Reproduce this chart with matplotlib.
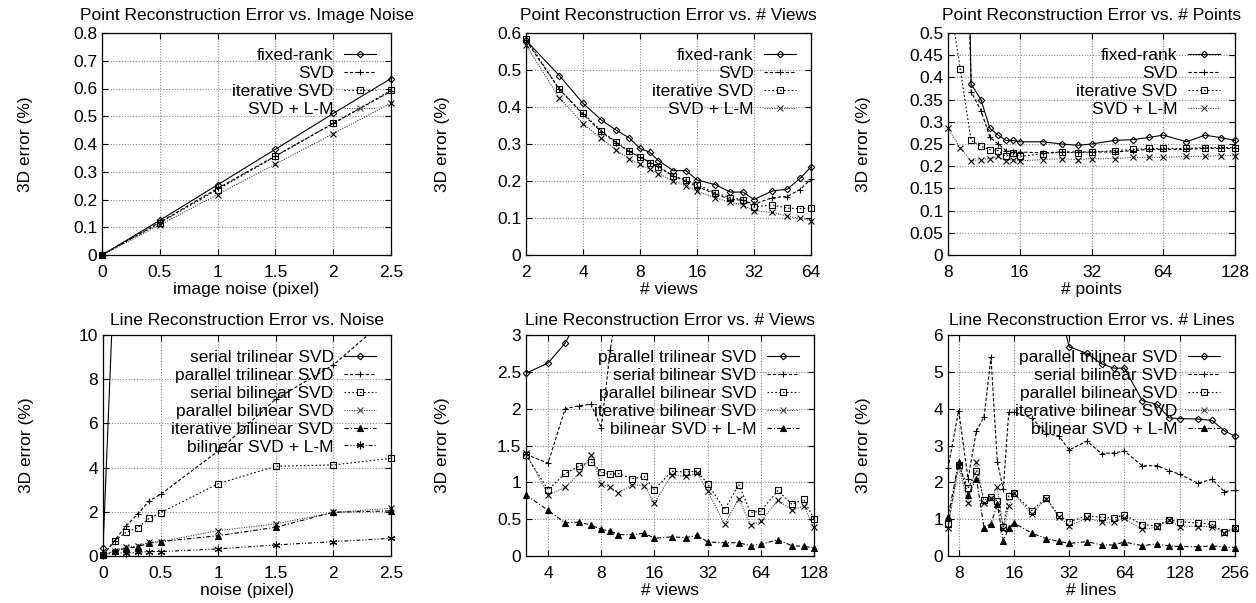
import numpy as np
import matplotlib
matplotlib.use("Agg")
import matplotlib.pyplot as plt
from matplotlib.lines import Line2D
from matplotlib.ticker import NullLocator, FixedLocator, FixedFormatter

plt.rcParams['font.family'] = ['Liberation Sans', 'DejaVu Sans']
plt.rcParams['font.size'] = 12.5

nan = np.nan

# --- point reconstruction vs. image noise
noise_pt = [0, 0.5, 1, 1.5, 2, 2.5]
p1_fixed = [0, 0.125, 0.253, 0.381, 0.510, 0.636]
p1_svd = [0, 0.118, 0.240, 0.357, 0.474, 0.590]
p1_iter = [0, 0.115, 0.236, 0.355, 0.475, 0.593]
p1_lm = [0, 0.108, 0.218, 0.328, 0.437, 0.547]

# --- point reconstruction vs. # views
views_pt = [2, 3, 4, 5, 6, 7, 8, 9, 10, 12, 14, 16, 20, 24, 28, 32, 40, 48, 56, 64]
p2_fixed = [0.580, 0.485, 0.410, 0.365, 0.337, 0.317, 0.288, 0.278, 0.255, 0.228,
            0.228, 0.203, 0.190, 0.170, 0.170, 0.150, 0.173, 0.178, 0.207, 0.238]
p2_svd = [0.580, 0.448, 0.380, 0.333, 0.303, 0.280, 0.265, 0.250, 0.240, 0.213,
          0.200, 0.185, 0.165, 0.150, 0.148, 0.137, 0.155, 0.158, 0.177, 0.205]
p2_iter = [0.585, 0.448, 0.383, 0.335, 0.305, 0.280, 0.265, 0.250, 0.237, 0.213,
           0.203, 0.190, 0.168, 0.155, 0.150, 0.130, 0.135, 0.127, 0.125, 0.127]
p2_lm = [0.567, 0.425, 0.355, 0.315, 0.283, 0.260, 0.245, 0.232, 0.220, 0.200,
         0.187, 0.172, 0.155, 0.142, 0.135, 0.120, 0.115, 0.105, 0.099, 0.093]

# --- point reconstruction vs. # points
points_pt = [8, 9, 10, 11, 12, 13, 14, 15, 16, 20, 24, 28, 32, 40, 48, 56, 64, 80, 96, 112, 128]
p3_fixed = [nan, 1.7, 0.385, 0.350, 0.285, 0.270, 0.258, 0.258, 0.255, 0.255, 0.250,
            0.247, 0.250, 0.258, 0.260, 0.265, 0.270, 0.255, 0.270, 0.264, 0.258]
p3_svd = [nan, 1.5, 0.368, 0.325, 0.265, 0.250, 0.235, 0.232, 0.232, 0.230, 0.232,
          0.232, 0.232, 0.232, 0.235, 0.238, 0.238, 0.238, 0.240, 0.240, 0.240]
p3_iter = [0.60, 0.420, 0.258, 0.245, 0.237, 0.235, 0.222, 0.230, 0.222, 0.228, 0.232,
           0.230, 0.232, 0.235, 0.238, 0.240, 0.240, 0.240, 0.242, 0.242, 0.242]
p3_lm = [0.285, 0.242, 0.212, 0.215, 0.217, 0.222, 0.212, 0.215, 0.212, 0.215, 0.217,
         0.215, 0.217, 0.217, 0.220, 0.220, 0.220, 0.222, 0.222, 0.224, 0.224]

# --- line reconstruction vs. noise
noise_ln = [0, 0.1, 0.2, 0.3, 0.4, 0.5, 1, 1.5, 2, 2.5]
p4_st = [0.35, 13.2, nan, nan, nan, nan, nan, nan, nan, nan]
p4_pt = [0.03, 0.70, 1.36, 1.89, 2.49, 2.79, 4.75, 7.10, 8.65, 10.9]
p4_sb = [0.03, 0.69, 1.07, 1.28, 1.70, 1.96, 3.27, 4.06, 4.12, 4.42]
p4_pb = [0.03, 0.24, 0.40, 0.45, 0.62, 0.65, 1.15, 1.45, 1.97, 2.16]
p4_ib = [0.03, 0.22, 0.35, 0.42, 0.58, 0.65, 0.92, 1.30, 1.98, 2.04]
p4_lm = [0.03, 0.17, 0.12, 0.17, 0.20, 0.20, 0.32, 0.50, 0.65, 0.80]

# --- line reconstruction vs. # views
views_ln = [3, 4, 5, 6, 7, 8, 9, 10, 12, 14, 16, 20, 24, 28, 32, 40, 48, 56, 64, 80, 96, 112, 128]
p5_pt = [2.48, 2.62, 2.89, 3.25] + [nan] * 19
p5_sb = [1.38, 1.26, 2.00, 2.04, 2.06, 1.74, 2.80, 3.50] + [nan] * 15
p5_pb = [1.37, 0.90, 1.12, 1.22, 1.28, 1.14, 1.11, 1.12, 1.05, 1.08, 0.90, 1.15,
         1.14, 1.15, 0.98, 0.63, 0.97, 0.59, 0.61, 0.89, 0.70, 0.77, 0.50]
p5_ib = [1.40, 0.83, 0.93, 1.12, 1.37, 0.98, 0.93, 0.86, 0.97, 0.95, 0.72, 1.10,
         1.08, 1.12, 0.88, 0.43, 0.78, 0.42, 0.47, 0.76, 0.62, 0.68, 0.39]
p5_lm = [0.83, 0.62, 0.45, 0.46, 0.42, 0.36, 0.34, 0.29, 0.29, 0.31, 0.24, 0.26,
         0.25, 0.28, 0.19, 0.18, 0.18, 0.14, 0.16, 0.22, 0.14, 0.13, 0.11]

# --- line reconstruction vs. # lines
lines_ln = [7, 8, 9, 10, 11, 12, 13, 14, 15, 16, 20, 24, 28, 32, 40, 48, 56, 64,
            80, 96, 112, 128, 160, 192, 224, 256]
p6_pt = [nan] * 12 + [6.8, 5.68, 5.50, 5.22, 5.10, 5.10, 4.22, 4.12, 3.75, 3.73,
                      3.72, 3.68, 3.40, 3.25]
p6_sb = [2.38, 3.95, 2.10, 3.40, 3.78, 5.40, 2.55, 1.82, 3.90, 3.90, 3.75, 3.32, 3.27,
         2.88, 3.12, 2.78, 2.80, 2.85, 2.45, 2.45, 2.32, 2.22, 1.98, 2.08, 1.75, 1.78]
p6_pb = [0.88, 2.48, 1.84, 2.32, 1.52, 1.59, 1.50, 0.80, 1.63, 1.70, 1.23, 1.58, 1.10,
         0.93, 1.09, 1.05, 1.03, 1.12, 0.85, 0.82, 0.98, 0.93, 0.90, 0.86, 0.65, 0.75]
p6_ib = [0.76, 2.45, 1.43, 2.54, 1.43, 1.58, 1.86, 0.72, 1.36, 1.70, 1.13, 1.56, 1.07,
         0.82, 1.03, 0.92, 0.92, 1.02, 0.72, 0.78, 0.98, 0.80, 0.80, 0.80, 0.62, 0.75]
p6_lm = [1.06, 2.55, 1.65, 2.10, 0.77, 0.88, 1.40, 0.42, 0.76, 0.90, 0.62, 0.47, 0.40,
         0.34, 0.39, 0.30, 0.30, 0.38, 0.28, 0.33, 0.27, 0.26, 0.25, 0.27, 0.25, 0.23]

labels_pt = ["fixed-rank", "SVD", "iterative SVD", "SVD + L-M"]
labels_noise = ["serial trilinear SVD", "parallel trilinear SVD", "serial bilinear SVD",
                "parallel bilinear SVD", "iterative bilinear SVD", "bilinear SVD + L-M"]
labels_ln = ["parallel trilinear SVD", "serial bilinear SVD", "parallel bilinear SVD",
             "iterative bilinear SVD", "bilinear SVD + L-M"]

# gnuplot-like line types / point types
LS = ['-', (0, (3, 1.8)), (0, (1.5, 2)), (0, (1, 1.2)), (0, (4, 1.8, 1, 1.8)),
      (0, (3.5, 1.8, 1, 1.8, 1, 1.8))]
LC = ['black', 'black', 'black', '#444444', 'black', 'black']
MK = [dict(marker='D', ms=3.3, mfc='none'),
      dict(marker='+', ms=5),
      dict(marker='s', ms=4, mfc='none'),
      dict(marker='x', ms=4),
      dict(marker='^', ms=4),
      dict(marker=(6, 2, 0), ms=5.5)]


def draw_panel(rect, x, series, labels, n, xlim, ylim, xticks, yticks,
               title, xlabel, ylab_off, logx=False, title_pad=7):
    ax = fig.add_axes(rect)
    if logx:
        ax.set_xscale('log', base=2)
    ax.set_xlim(*xlim)
    ax.set_ylim(*ylim)
    handles = []
    for i, (y, lab) in enumerate(zip(series, labels)):
        k = n[i]
        y = np.array(y, dtype=float)
        xa = np.array(x, dtype=float)
        ax.plot(xa, y, color=LC[k], lw=0.8, ls=LS[k], zorder=3)
        # markers on the border are drawn whole, like gnuplot does
        ok = (y >= ylim[0]) & (y <= ylim[1])
        ax.plot(xa[ok], y[ok], ls='none', color='black', mew=0.8, clip_on=False,
                zorder=4, **MK[k])
        handles.append(Line2D([], [], color=LC[k], lw=0.8, ls=LS[k], mew=0.8, **MK[k]))
    ax.xaxis.set_major_locator(FixedLocator(xticks))
    ax.xaxis.set_major_formatter(FixedFormatter(['%g' % t for t in xticks]))
    ax.xaxis.set_minor_locator(NullLocator())
    ax.yaxis.set_major_locator(FixedLocator(yticks))
    ax.yaxis.set_major_formatter(FixedFormatter(['%g' % t for t in yticks]))
    ax.yaxis.set_minor_locator(NullLocator())
    ax.tick_params(direction='in', top=True, right=True, length=4, width=0.8)
    ax.tick_params(axis='x', pad=7.5)
    ax.tick_params(axis='y', pad=3.5)
    ax.grid(True, color='#888888', lw=0.8, ls=(0, (1, 1.5)), zorder=0)
    for sp in ax.spines.values():
        sp.set_linewidth(0.9)
    ax.set_title(title, fontsize=12.5, pad=title_pad)
    ax.set_xlabel(xlabel, labelpad=1)
    ax.set_ylabel("3D error (%)")
    ax.yaxis.set_label_coords(-ylab_off, 0.5)
    ax.legend(handles=handles, labels=labels, loc='upper right', frameon=False,
              markerfirst=False, handlelength=1.85, handletextpad=0.6,
              labelspacing=0.16, borderaxespad=0.45, borderpad=0.4, fontsize=12.5)
    return ax


W, H = 1256.0, 603.0
fig = plt.figure(figsize=(W / 100, H / 100), dpi=100)


def rect(x0, x1, y0, y1):
    return [x0 / W, 1 - y1 / H, (x1 - x0) / W, (y1 - y0) / H]


draw_panel(rect(102, 391, 33, 255), noise_pt, [p1_fixed, p1_svd, p1_iter, p1_lm], labels_pt,
           [0, 1, 2, 3], (0, 2.5), (0, 0.8), [0, 0.5, 1, 1.5, 2, 2.5],
           np.round(np.arange(0, 0.81, 0.1), 2),
           "Point Reconstruction Error vs. Image Noise", "image noise (pixel)", 0.239,
           title_pad=9.5)

draw_panel(rect(526, 811, 33, 255), views_pt, [p2_fixed, p2_svd, p2_iter, p2_lm], labels_pt,
           [0, 1, 2, 3], (2, 64), (0, 0.6), [2, 4, 8, 16, 32, 64],
           np.round(np.arange(0, 0.61, 0.1), 2),
           "Point Reconstruction Error vs. # Views", "# views", 0.266, logx=True,
           title_pad=9.5)

draw_panel(rect(948, 1235, 33, 255), points_pt, [p3_fixed, p3_svd, p3_iter, p3_lm], labels_pt,
           [0, 1, 2, 3], (8, 128), (0, 0.5), [8, 16, 32, 64, 128],
           np.round(np.arange(0, 0.51, 0.05), 2),
           "Point Reconstruction Error vs. # Points", "# points", 0.268, logx=True,
           title_pad=9.5)

draw_panel(rect(103, 391, 335, 556), noise_ln, [p4_st, p4_pt, p4_sb, p4_pb, p4_ib, p4_lm],
           labels_noise, [0, 1, 2, 3, 4, 5], (0, 2.5), (0, 10), [0, 0.5, 1, 1.5, 2, 2.5],
           [0, 2, 4, 6, 8, 10],
           "Line Reconstruction Error vs. Noise", "noise (pixel)", 0.239)

draw_panel(rect(526, 814, 335, 556), views_ln, [p5_pt, p5_sb, p5_pb, p5_ib, p5_lm],
           labels_ln, [0, 1, 2, 3, 4], (3, 128), (0, 3),
           [4, 8, 16, 32, 64, 128], [0, 0.5, 1, 1.5, 2, 2.5, 3],
           "Line Reconstruction Error vs. # Views", "# views", 0.264, logx=True)

draw_panel(rect(948, 1235, 335, 556), lines_ln, [p6_pt, p6_sb, p6_pb, p6_ib, p6_lm],
           labels_ln, [0, 1, 2, 3, 4], (7, 256), (0, 6),
           [8, 16, 32, 64, 128, 256], [0, 1, 2, 3, 4, 5, 6],
           "Line Reconstruction Error vs. # Lines", "# lines", 0.268, logx=True)

fig.savefig("out.png", dpi=100)
